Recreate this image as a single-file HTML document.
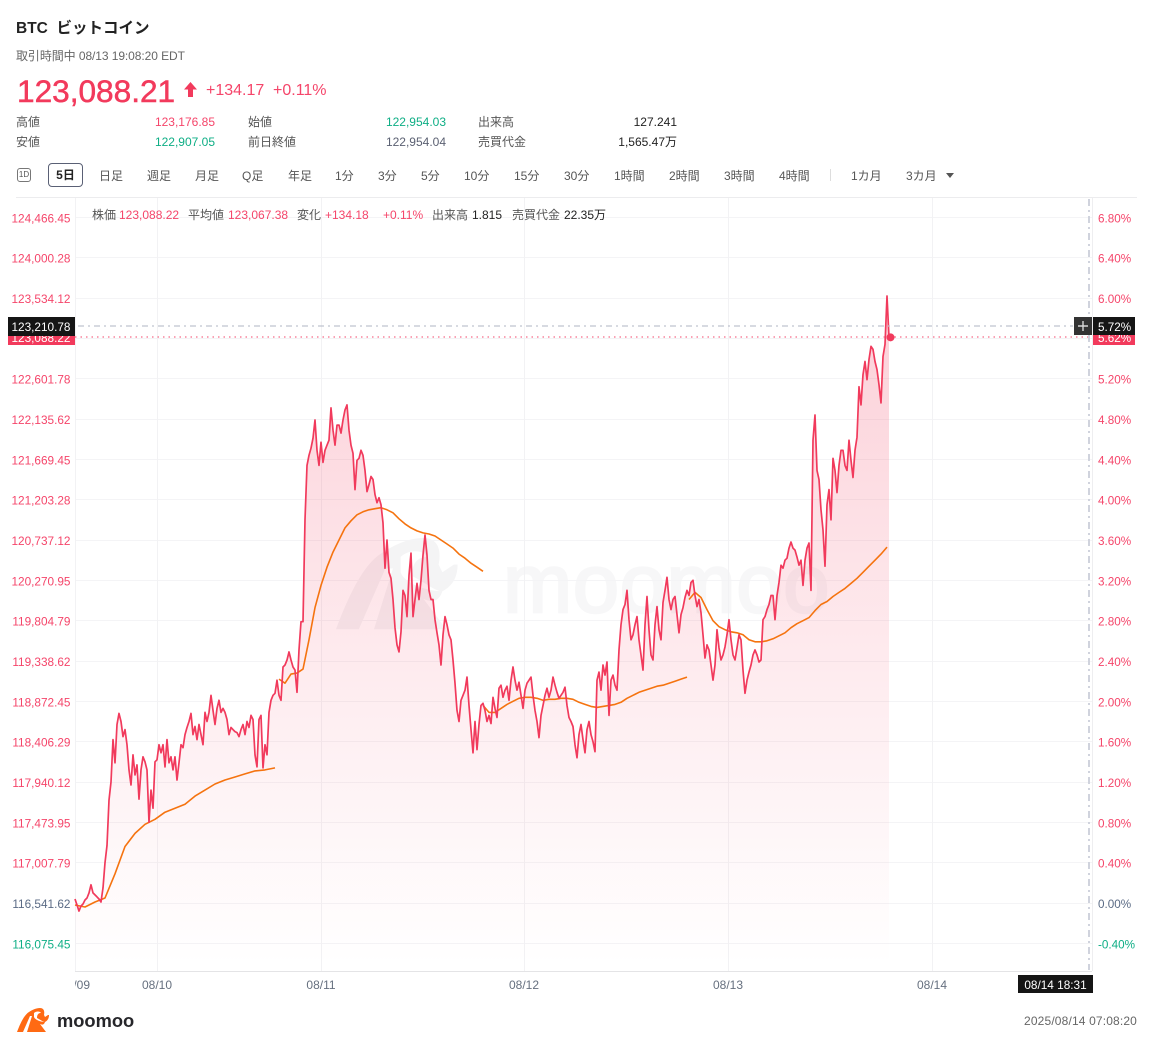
<!DOCTYPE html>
<html lang="ja">
<head>
<meta charset="utf-8">
<title>BTC ビットコイン</title>
<style>
html,body{margin:0;padding:0;background:#fff;}
#page{position:relative;width:1153px;height:1047px;overflow:hidden;background:#fff;font-family:"Liberation Sans","Noto Sans CJK JP",sans-serif;color:#333;}
.t{position:absolute;white-space:nowrap;font-size:12px;line-height:14px;}
.r{color:#f5456a;}.g{color:#0eae85;}.k{color:#5b6072;}.d{color:#222;}.l{color:#555;}
.tab{position:absolute;top:169px;font-size:12px;line-height:14px;color:#555;white-space:nowrap;}
svg{position:absolute;left:0;top:0;}
svg text{font-family:"Liberation Sans","Noto Sans CJK JP",sans-serif;}
</style>
</head>
<body>
<div id="page">
<svg id="chart" width="1153" height="1047" viewBox="0 0 1153 1047">
  <defs>
    <linearGradient id="areaFade" gradientUnits="userSpaceOnUse" x1="0" y1="296" x2="0" y2="965">
      <stop offset="0" stop-color="#f23a5c" stop-opacity="0.24"/>
      <stop offset="0.6" stop-color="#f23a5c" stop-opacity="0.09"/>
      <stop offset="1" stop-color="#f23a5c" stop-opacity="0"/>
    </linearGradient>
    <clipPath id="plotClip"><rect x="75" y="198" width="1017" height="850"/></clipPath>
    <path id="bullLogo" fill-rule="evenodd" d="M0 24 C3 16 7 7 12 4 C15 2 19 0 23 0 C26 0 28 2 27 7 L28 9 L31 7 L32 7 C32 11 30 13 28 14 C27 17 25 17 23 16 L29 24 L12 24 Z M6 24 L13 8 L15 8 L10 24 Z M17 5 C19 3 23 3 24 5 C22 5 20 6 20 10 C24 12 26 14 28 14 C24 14 18 12 17 9 Z"/>
  </defs>
  <g id="watermark">
    <use href="#bullLogo" transform="translate(336,538) scale(3.8)" fill="#f4f4f5"/>
    <text x="503" y="612" font-size="83" letter-spacing="0.7" fill="#f7f7f8" stroke="#f7f7f8" stroke-width="2.5">moomoo</text>
  </g>
  <g id="gridLayer"></g>
  <path id="areaPath" fill="url(#areaFade)" stroke="none"></path>
  <g id="vwapLayer"></g>
  <path id="pricePath" fill="none" stroke="#f13a5c" stroke-width="1.7" stroke-linejoin="round"></path>
  <line x1="75" x2="1090" y1="337" y2="337" stroke="#f5456a" stroke-width="1" stroke-dasharray="1.5 4"/>
  <circle id="lastDot" r="4" fill="#f13a5c"></circle>
  <line x1="78" x2="1073" y1="326" y2="326" stroke="#bfc3cf" stroke-width="1.2" stroke-dasharray="6 4 2 4"/>
  <line x1="1089" x2="1089" y1="199" y2="970" stroke="#d0d3dd" stroke-width="2" stroke-dasharray="7 4 2 4"/>
  <g id="axisLayer"></g>

  <rect x="8" y="328" width="67" height="17" fill="#f23a5c"/>
  <text x="70.5" y="342" font-size="11.8" fill="#fff" text-anchor="end">123,088.22</text>
  <rect x="8" y="317" width="67" height="19" fill="#151515"/>
  <text x="70.5" y="331" font-size="11.8" fill="#fff" text-anchor="end">123,210.78</text>
  <rect x="1093" y="328" width="42" height="17" fill="#f23a5c"/>
  <text x="1098" y="342" font-size="11.7" fill="#fff">5.62%</text>
  <rect x="1093" y="317" width="42" height="18" fill="#151515"/>
  <text x="1098" y="331" font-size="11.7" fill="#fff">5.72%</text>
  <rect x="1074" y="317" width="18" height="18" fill="#333"/>
  <path d="M1083 321 V331 M1078 326 H1088" stroke="#d8d8d8" stroke-width="1.4" fill="none"/>
  <rect x="1018" y="975" width="75" height="18" fill="#151515"/>
  <text x="1055.5" y="989" font-size="11.8" fill="#fff" text-anchor="middle">08/14 18:31</text>

  <use href="#bullLogo" transform="translate(17,1008)" fill="#ff6a13"/>
</svg>

<div class="t" style="left:16px;top:20px;font-size:15.5px;line-height:18px;font-weight:bold;color:#222;">BTC&nbsp; ビットコイン</div>
<div class="t l" style="left:16px;top:49px;color:#666;letter-spacing:-.08px;">取引時間中 08/13 19:08:20 EDT</div>
<div class="t r" style="left:17px;top:73px;font-size:31.6px;line-height:37px;color:#f23a5c;-webkit-text-stroke:.5px #f23a5c;">123,088.21</div>
<svg style="left:183px;top:82px;" width="15" height="15" viewBox="0 0 15 15"><path d="M7.5 0 L14 7.5 H10 V15 H5 V7.5 H1 Z" fill="#f23a5c"/></svg>
<div class="t r" style="left:206px;top:82px;font-size:16px;line-height:18px;">+134.17</div>
<div class="t r" style="left:273px;top:82px;font-size:16px;line-height:18px;">+0.11%</div>

<div class="t l" style="left:16px;top:115px;">高値</div>
<div class="t r" style="right:938px;top:115px;">123,176.85</div>
<div class="t l" style="left:248px;top:115px;">始値</div>
<div class="t g" style="right:707px;top:115px;">122,954.03</div>
<div class="t l" style="left:478px;top:115px;">出来高</div>
<div class="t d" style="right:476px;top:115px;">127.241</div>
<div class="t l" style="left:16px;top:135px;">安値</div>
<div class="t g" style="right:938px;top:135px;">122,907.05</div>
<div class="t l" style="left:248px;top:135px;">前日終値</div>
<div class="t k" style="right:707px;top:135px;">122,954.04</div>
<div class="t l" style="left:478px;top:135px;">売買代金</div>
<div class="t d" style="right:476px;top:135px;">1,565.47万</div>

<div style="position:absolute;left:17px;top:168px;width:12px;height:12px;border:1px solid #777;border-radius:3px;font-size:8px;line-height:12px;text-align:center;color:#555;">1D</div>
<div style="position:absolute;left:48px;top:163px;width:33px;height:22px;border:1px solid #5a6075;border-radius:4px;font-size:12px;font-weight:bold;line-height:22px;text-align:center;color:#222;">5日</div>
<div class="tab" style="left:99px;">日足</div>
<div class="tab" style="left:147px;">週足</div>
<div class="tab" style="left:195px;">月足</div>
<div class="tab" style="left:242px;">Q足</div>
<div class="tab" style="left:288px;">年足</div>
<div class="tab" style="left:335px;">1分</div>
<div class="tab" style="left:378px;">3分</div>
<div class="tab" style="left:421px;">5分</div>
<div class="tab" style="left:464px;">10分</div>
<div class="tab" style="left:514px;">15分</div>
<div class="tab" style="left:564px;">30分</div>
<div class="tab" style="left:614px;">1時間</div>
<div class="tab" style="left:669px;">2時間</div>
<div class="tab" style="left:724px;">3時間</div>
<div class="tab" style="left:779px;">4時間</div>
<div style="position:absolute;left:830px;top:169px;width:1px;height:12px;background:#ddd;"></div>
<div class="tab" style="left:851px;">1カ月</div>
<div class="tab" style="left:906px;">3カ月</div>
<div style="position:absolute;left:946px;top:173px;width:0;height:0;border-left:4.5px solid transparent;border-right:4.5px solid transparent;border-top:5px solid #555;"></div>
<div style="position:absolute;left:16px;top:197px;width:1121px;height:1px;background:#ececee;"></div>

<div class="t l" style="left:92px;top:208px;">株価</div>
<div class="t r" style="left:119px;top:208px;">123,088.22</div>
<div class="t l" style="left:188px;top:208px;">平均値</div>
<div class="t r" style="left:228px;top:208px;">123,067.38</div>
<div class="t l" style="left:297px;top:208px;">変化</div>
<div class="t r" style="left:325px;top:208px;">+134.18</div>
<div class="t r" style="left:383px;top:208px;">+0.11%</div>
<div class="t l" style="left:432px;top:208px;">出来高</div>
<div class="t d" style="left:472px;top:208px;">1.815</div>
<div class="t l" style="left:512px;top:208px;">売買代金</div>
<div class="t d" style="left:564px;top:208px;">22.35万</div>

<div class="t" style="left:57px;top:1011px;font-size:18.3px;line-height:20px;font-weight:bold;color:#26262a;">moomoo</div>
<div class="t" style="right:16px;top:1014px;color:#666;letter-spacing:.15px;">2025/08/14 07:08:20</div>
</div>

<script>
// Axis tick data
const pctTicks = [6.8,6.4,6.0,5.6,5.2,4.8,4.4,4.0,3.6,3.2,2.8,2.4,2.0,1.6,1.2,0.8,0.4,0,-0.4];
const priceTickLabels = ["124,466.45","124,000.28","123,534.12","","122,601.78","122,135.62","121,669.45","121,203.28","120,737.12","120,270.95","119,804.79","119,338.62","118,872.45","118,406.29","117,940.12","117,473.95","117,007.79","116,541.62","116,075.45"];
const pctTickLabels = ["6.80%","6.40%","6.00%","","5.20%","4.80%","4.40%","4.00%","3.60%","3.20%","2.80%","2.40%","2.00%","1.60%","1.20%","0.80%","0.40%","0.00%","-0.40%"];
const dateTickLabels = ["08/09","08/10","08/11","08/12","08/13","08/14"];
const dateTickIndex = [0,41,123,224.5,326.5,428.5];

// Price series: % change versus the 116,541.62 base, evenly spaced samples
const priceChangePct = [
.05,-.01,-.07,-.02,0,.04,.06,.11,.19,.11,.09,.07,.05,.02,.16,.41,.58,1.03,1.21,1.63,
1.40,1.78,1.89,1.81,1.66,1.73,1.58,1.33,1.18,1.48,1.28,1.38,1.04,1.33,1.46,1.41,1.33,.81,1.13,.95,
1.41,1.43,1.58,1.50,1.58,1.36,1.63,1.40,1.46,1.33,1.46,1.23,1.40,1.58,1.55,1.68,1.75,1.81,1.89,1.68,
1.76,1.63,1.78,1.68,1.58,1.90,1.81,1.90,2.07,1.92,1.78,1.94,2.02,1.90,1.94,1.90,1.83,1.68,1.75,1.73,
1.71,1.70,1.66,1.73,1.78,1.68,1.81,1.75,1.87,1.83,1.48,1.36,1.83,1.87,1.35,1.58,1.48,1.90,2.02,2.07,
2.09,2.22,2.07,2.02,2.35,2.37,2.42,2.50,2.42,2.35,2.32,2.10,2.52,2.80,2.80,3.81,4.35,4.45,4.52,4.62,
4.80,4.50,4.35,4.58,4.38,4.50,4.55,4.60,4.92,4.70,4.55,4.75,4.75,4.67,4.80,4.90,4.95,4.70,4.55,4.47,
4.11,4.40,4.42,4.50,4.45,4.30,4.09,4.16,4.24,4.21,4.06,3.98,4.03,3.96,3.78,3.33,3.61,3.29,3.23,3.02,
2.74,2.57,2.50,2.70,3.11,3.06,2.85,3.26,3.48,2.85,3.02,3.18,3.02,3.21,3.46,3.66,3.46,3.11,3.02,3.02,
2.82,2.69,2.57,2.37,2.67,2.85,2.77,2.67,2.62,2.42,2.19,1.92,1.81,2.02,2.07,2.12,2.25,1.97,1.73,1.50,
1.81,1.53,1.78,1.97,1.99,1.92,1.81,1.87,1.79,2.05,1.94,1.85,2.14,2.17,2.05,2.12,2.16,2.02,2.22,2.35,
2.22,2.12,2.20,2.07,1.94,2.12,2.19,2.22,2.25,2.07,1.92,1.81,1.65,1.87,1.97,2.07,2.14,2.05,2.12,2.25,
2.17,2.10,2.04,2.07,2.10,2.15,1.97,1.85,1.81,1.76,1.58,1.45,1.68,1.78,1.63,1.50,1.73,1.81,1.68,1.61,
1.51,2.22,2.30,2.12,2.37,2.27,2.40,1.87,2.22,2.27,2.17,2.12,2.52,2.77,2.92,2.97,3.11,2.82,2.62,2.67,
2.77,2.85,2.62,2.47,2.32,2.77,3.05,2.72,2.47,2.42,2.77,2.95,2.72,2.62,2.99,3.11,3.24,3.02,2.92,3.02,
3.05,2.87,2.69,2.87,2.94,3.04,3.11,3.06,3.19,3.21,3.06,2.95,3.02,2.89,2.67,2.44,2.57,2.52,2.37,2.22,
2.37,2.72,2.54,2.42,2.47,2.55,2.67,2.82,2.62,2.47,2.42,2.54,2.67,2.62,2.32,2.09,2.22,2.30,2.37,2.47,
2.52,2.47,2.40,2.42,2.82,2.85,2.92,2.97,3.06,3.06,2.82,3.06,3.19,3.36,3.33,3.41,3.43,3.53,3.59,3.53,
3.51,3.44,3.36,3.41,3.16,3.41,3.53,3.58,3.11,4.60,4.85,4.30,4.21,3.91,3.71,3.35,3.96,4.11,3.81,4.42,
4.30,4.08,4.35,4.50,4.50,4.35,4.30,4.60,4.40,4.23,4.50,4.63,5.13,4.95,5.25,5.38,5.20,5.40,5.53,5.50,
5.38,5.30,5.15,4.97,5.43,5.55,6.03,5.62
];

// Average-price (VWAP) lines, one per session
const vwapSession1Start = 0;
const vwapSession1Every = 5;
const vwapSession1 = [-.01,-.03,.02,.06,.30,.57,.70,.79,.84,.91,.95,.99,1.07,1.13,1.19,1.23,1.26,1.29,1.32,1.33,1.35];
const vwapSession2Start = 102;
const vwapSession2Every = 3;
const vwapSession2 = [2.23,2.19,2.28,2.29,2.33,2.62,2.94,3.16,3.34,3.49,3.61,3.73,3.80,3.86,3.89,3.91,3.92,3.93,3.91,3.88,3.82,3.77,3.73,3.70,3.68,3.67,3.65,3.61,3.57,3.53,3.47,3.43,3.38,3.34,3.30];
const vwapSession3Start = 204;
const vwapSession3Every = 3;
const vwapSession3 = [1.97,1.90,1.90,1.94,1.98,2.01,2.04,2.05,2.05,2.04,2.02,2.03,2.03,2.04,2.04,2.03,2.00,1.98,1.96,1.95,1.96,1.97,1.98,2.00,2.04,2.07,2.10,2.12,2.14,2.16,2.17,2.19,2.21,2.23,2.25];
const vwapSession4Start = 307;
const vwapSession4Every = 3;
const vwapSession4 = [3.02,3.09,3.04,2.92,2.81,2.75,2.72,2.70,2.69,2.67,2.62,2.60,2.60,2.61,2.63,2.66,2.69,2.74,2.78,2.81,2.84,2.91,2.97,3.00,3.05,3.09,3.13,3.18,3.23,3.29,3.35,3.41,3.47,3.54];

const SVG_NS = "http://www.w3.org/2000/svg";
function xScale(i){ return 75 + 2 * i; }
function yScale(p){ return 904 - p * 100.83; }
function make(tag, parent){
  const node = document.createElementNS(SVG_NS, tag);
  parent.appendChild(node);
  return node;
}

const grid = document.getElementById("gridLayer");
const axis = document.getElementById("axisLayer");

pctTicks.forEach(function(p, k){
  const y = yScale(p);
  const gy = Math.floor(y) - 0.5;
  const line = make("line", grid);
  
  
  line.setAttribute("x1", 75); line.setAttribute("x2", 1092);
  line.setAttribute("y1", gy); line.setAttribute("y2", gy);
  line.setAttribute("stroke", "#f4f4f6"); line.setAttribute("stroke-width", "1");
  const colour = p > 0 ? "#f5456a" : (p < 0 ? "#0eae85" : "#5b6b85");
  if (priceTickLabels[k]) {
    const left = make("text", axis);
    
    
    left.setAttribute("x", 70.5); left.setAttribute("y", y + 4);
    left.setAttribute("font-size", "11.8"); left.setAttribute("text-anchor", "end");
    left.setAttribute("fill", colour);
    left.textContent = priceTickLabels[k];
  }
  if (pctTickLabels[k]) {
    const right = make("text", axis);
    
    
    right.setAttribute("x", 1098); right.setAttribute("y", y + 4);
    right.setAttribute("font-size", "11.7");
    right.setAttribute("fill", colour);
    right.textContent = pctTickLabels[k];
  }
});

dateTickLabels.forEach(function(label, k){
  const x = xScale(dateTickIndex[k]);
  const gx = Math.round(x) + 0.5;
  const line = make("line", grid);
  
  
  line.setAttribute("x1", gx); line.setAttribute("x2", gx);
  line.setAttribute("y1", 198); line.setAttribute("y2", 971);
  line.setAttribute("stroke", "#f2f2f4"); line.setAttribute("stroke-width", "1");
  const text = make("text", axis);
  
  
  text.setAttribute("x", x); text.setAttribute("y", 989);
  text.setAttribute("font-size", "12"); text.setAttribute("text-anchor", "middle");
  text.setAttribute("fill", "#66707f");
  text.setAttribute("clip-path", "url(#plotClip)");
  text.textContent = label;
});

const rightEdge = make("line", grid);


rightEdge.setAttribute("x1", 1092.5); rightEdge.setAttribute("x2", 1092.5);
rightEdge.setAttribute("y1", 198); rightEdge.setAttribute("y2", 971);
rightEdge.setAttribute("stroke", "#eeeef0");

const baseLine = make("line", axis);


baseLine.setAttribute("x1", 75); baseLine.setAttribute("x2", 1092);
baseLine.setAttribute("y1", 971.5); baseLine.setAttribute("y2", 971.5);
baseLine.setAttribute("stroke", "#e4e4e6");

let d = "";
priceChangePct.forEach(function(p, i){
  d += (i ? "L" : "M") + xScale(i) + " " + yScale(p).toFixed(1);
});
document.getElementById("pricePath").setAttribute("d", d);
const lastIndex = priceChangePct.length - 1;
document.getElementById("areaPath").setAttribute("d", d + "L" + xScale(lastIndex) + " 971L" + xScale(0) + " 971Z");
const dot = document.getElementById("lastDot");
dot.setAttribute("cx", xScale(lastIndex) + 1.5);
dot.setAttribute("cy", yScale(priceChangePct[lastIndex]));

const vwapLayer = document.getElementById("vwapLayer");
[[vwapSession1, vwapSession1Start, vwapSession1Every],
 [vwapSession2, vwapSession2Start, vwapSession2Every],
 [vwapSession3, vwapSession3Start, vwapSession3Every],
 [vwapSession4, vwapSession4Start, vwapSession4Every]].forEach(function(session){
  const values = session[0], start = session[1], every = session[2];
  let path = "";
  values.forEach(function(p, k){
    path += (k ? "L" : "M") + xScale(start + k * every) + " " + yScale(p).toFixed(1);
  });
  const line = make("path", vwapLayer);
  
  
  line.setAttribute("d", path);
  line.setAttribute("fill", "none");
  line.setAttribute("stroke", "#f5730f");
  line.setAttribute("stroke-width", "1.6");
  line.setAttribute("stroke-linejoin", "round");
});
</script>
</body>
</html>
